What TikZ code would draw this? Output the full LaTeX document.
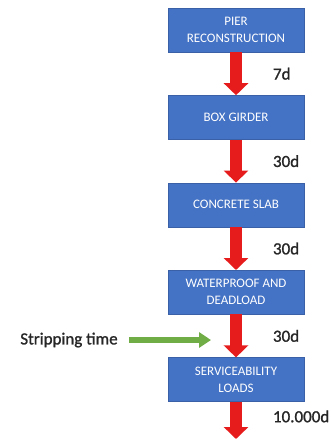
\documentclass[tikz,border=0pt]{standalone}
\usepackage{fontspec}
\setmainfont{Carlito}
\newfontfamily\labelfont[FakeBold=1.2]{Carlito}
\usetikzlibrary{positioning,arrows.meta}

\definecolor{boxblue}{RGB}{68,114,196}
\definecolor{flowred}{RGB}{230,28,28}
\definecolor{stripgreen}{RGB}{112,173,71}

\tikzset{
    stage/.style={draw=boxblue!85!black, fill=boxblue, text=white,
        minimum width=136pt, minimum height=44pt, inner sep=2pt,
        align=center, font=\fontsize{13}{17}\selectfont},
    flow/.style={draw=flowred, line width=12pt,
        -{Triangle[width=24pt,length=12pt]}},
    days/.style={anchor=west, xshift=30pt, inner sep=1pt, text=black!85,
        font=\labelfont\fontsize{17}{19}\selectfont},
    strip/.style={draw=stripgreen, line width=6pt,
        -{Triangle[width=15pt,length=12pt]}},
}

\begin{document}
\begin{tikzpicture}[x=1pt,y=-1pt]
    \useasboundingbox (0,0) rectangle (330,439);
    % construction stages
    \node[stage] (pier) at (236,30) {PIER\\RECONSTRUCTION};
    \node[stage, below=43pt of pier] (girder) {BOX GIRDER};
    \node[stage, below=43pt of girder] (slab) {CONCRETE SLAB};
    \node[stage, below=43pt of slab] (deadload) {WATERPROOF AND\\DEADLOAD};
    \node[stage, below=43pt of deadload] (service) {SERVICEABILITY\\LOADS};
    \coordinate (bottom) at (service.south |- 0,439);

    % time between stages
    \draw[flow] (pier.south) -- (girder.north) node[midway, days] (t1) {7d};
    \draw[flow] (girder.south) -- (slab.north) node[midway, days] (t2) {30d};
    \draw[flow] (slab.south) -- (deadload.north) node[midway, days] (t3) {30d};
    \draw[flow] (deadload.south) -- (service.north) node[midway, days] (t4) {30d};
    \draw[flow] (service.south) -- (bottom) node[midway, days, yshift=4pt] (t5) {10.000d};

    % stripping
    \node[text=black!85, inner sep=1pt, font=\labelfont\fontsize{17}{19}\selectfont] (stripping) at (69,340) {Stripping time};
    \coordinate (stripend) at (211,340);
    \draw[strip] ([xshift=10pt]stripping.east) -- (stripend);
\end{tikzpicture}
\end{document}
